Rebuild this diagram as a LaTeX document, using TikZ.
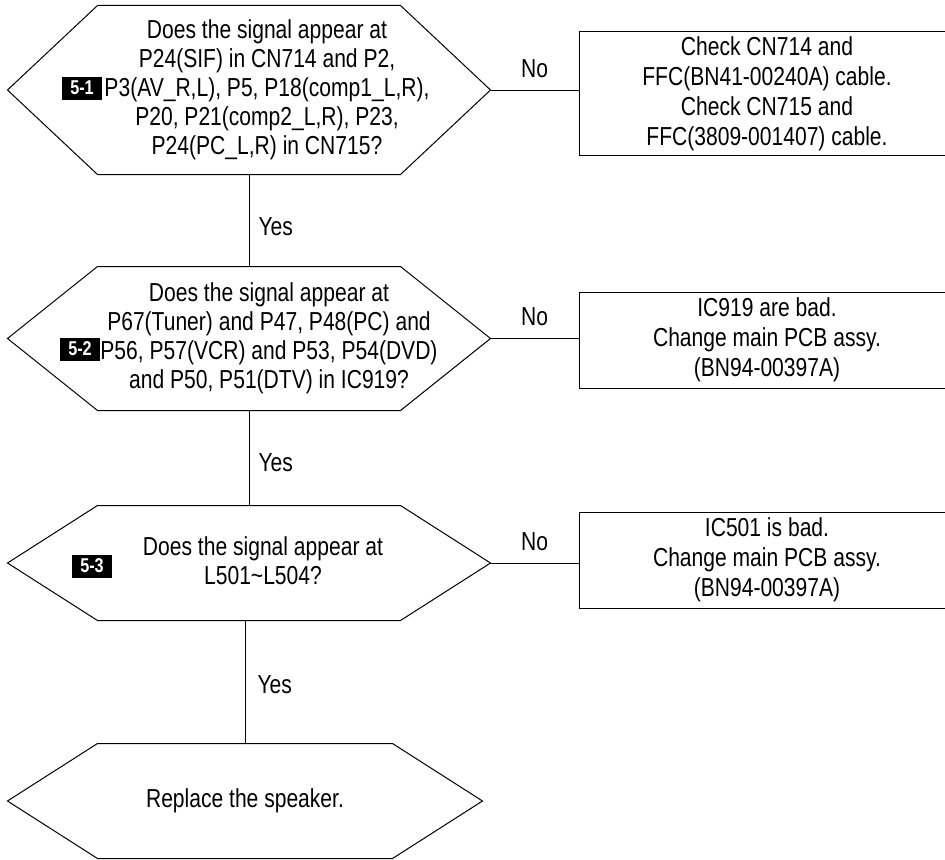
\documentclass[tikz,border=0pt]{standalone}
\usepackage{fontspec}
\setmainfont{Liberation Sans}[FakeStretch=0.81]
\usetikzlibrary{positioning,calc}
\tikzset{
  hexa/.style={inner sep=0pt, minimum width=482bp, align=center, font=\fontsize{26bp}{29bp}\selectfont},
  qtxt/.style={inner sep=0pt, align=center, font=\fontsize{26bp}{29bp}\selectfont},
  res/.style={draw, inner sep=0pt, align=center, minimum width=376bp, font=\fontsize{26bp}{30bp}\selectfont},
  tagbox/.style={fill=black, text=white, inner sep=0pt, minimum width=40bp, minimum height=23bp, font=\fontsize{20bp}{20bp}\selectfont\bfseries},
  lbl/.style={inner sep=0pt, font=\fontsize{26bp}{29bp}\selectfont}
}
\newcommand\hexframe[1]{\draw (#1.west) -- ([xshift=90bp]#1.north west) -- ([xshift=-90bp]#1.north east)
  -- (#1.east) -- ([xshift=-90bp]#1.south east) -- ([xshift=90bp]#1.south west) -- cycle;}

\begin{document}
\begin{tikzpicture}[x=1bp, y=-1bp, line width=1bp]
  \useasboundingbox (0,0) rectangle (945,860);
  \clip (0,0) rectangle (945,860);
  \fill[white] (0,0) rectangle (945,860);
  % questions
  \node[hexa, minimum height=168bp] (q1) at (249,90) {};
  \node[hexa, minimum height=143bp] (q2) at (249,338.5) {};
  \node[hexa, minimum height=114bp] (q3) at (249,563) {};
  \node[hexa, minimum width=474bp, minimum height=114bp] (q4) at (245,801) {Replace the speaker.};
  \hexframe{q1}
  \hexframe{q2}
  \hexframe{q3}
  \hexframe{q4}
  \node[qtxt] (t1) at (267,90) {Does the signal appear at\\P24(SIF) in CN714 and P2,\\P3(AV\_R,L), P5, P18(comp1\_L,R),\\P20, P21(comp2\_L,R), P23,\\P24(PC\_L,R) in CN715?};
  \node[qtxt] (t2) at (269,338) {Does the signal appear at\\P67(Tuner) and P47, P48(PC) and\\P56, P57(VCR) and P53, P54(DVD)\\and P50, P51(DTV) in IC919?};
  \node[qtxt] (t3) at (263,561) {Does the signal appear at\\L501\textasciitilde L504?};
  \node[tagbox] (k1) at (82,88) {5-1};
  \node[tagbox] (k2) at (80,349) {5-2};
  \node[tagbox] (k3) at (92,566) {5-3};
  % results
  \node[res, minimum height=123bp] (r1) at (767,93.5) {Check CN714 and\\FFC(BN41-00240A) cable.\\Check CN715 and\\FFC(3809-001407) cable.};
  \node[res, minimum height=96bp] (r2) at (767,340) {IC919 are bad.\\Change main PCB assy.\\(BN94-00397A)};
  \node[res, minimum height=96bp] (r3) at (767,560) {IC501 is bad.\\Change main PCB assy.\\(BN94-00397A)};
  % connectors
  \draw (q1.east) -- (q1.east -| r1.west) node[lbl, midway, above=12bp] {No};
  \draw (q2.east) -- (q2.east -| r2.west) node[lbl, midway, above=12bp] {No};
  \draw (q3.east) -- (q3.east -| r3.west) node[lbl, midway, above=12bp] {No};
  \draw (q1.south) -- (q2.north) node[lbl, midway, right=9bp, yshift=-6bp] {Yes};
  \draw (q2.south) -- (q3.north) node[lbl, midway, right=9bp, yshift=-5bp] {Yes};
  \draw (q4.north |- q3.south) -- (q4.north) node[lbl, midway, right=12bp, yshift=-3bp] {Yes};
\end{tikzpicture}
\end{document}
